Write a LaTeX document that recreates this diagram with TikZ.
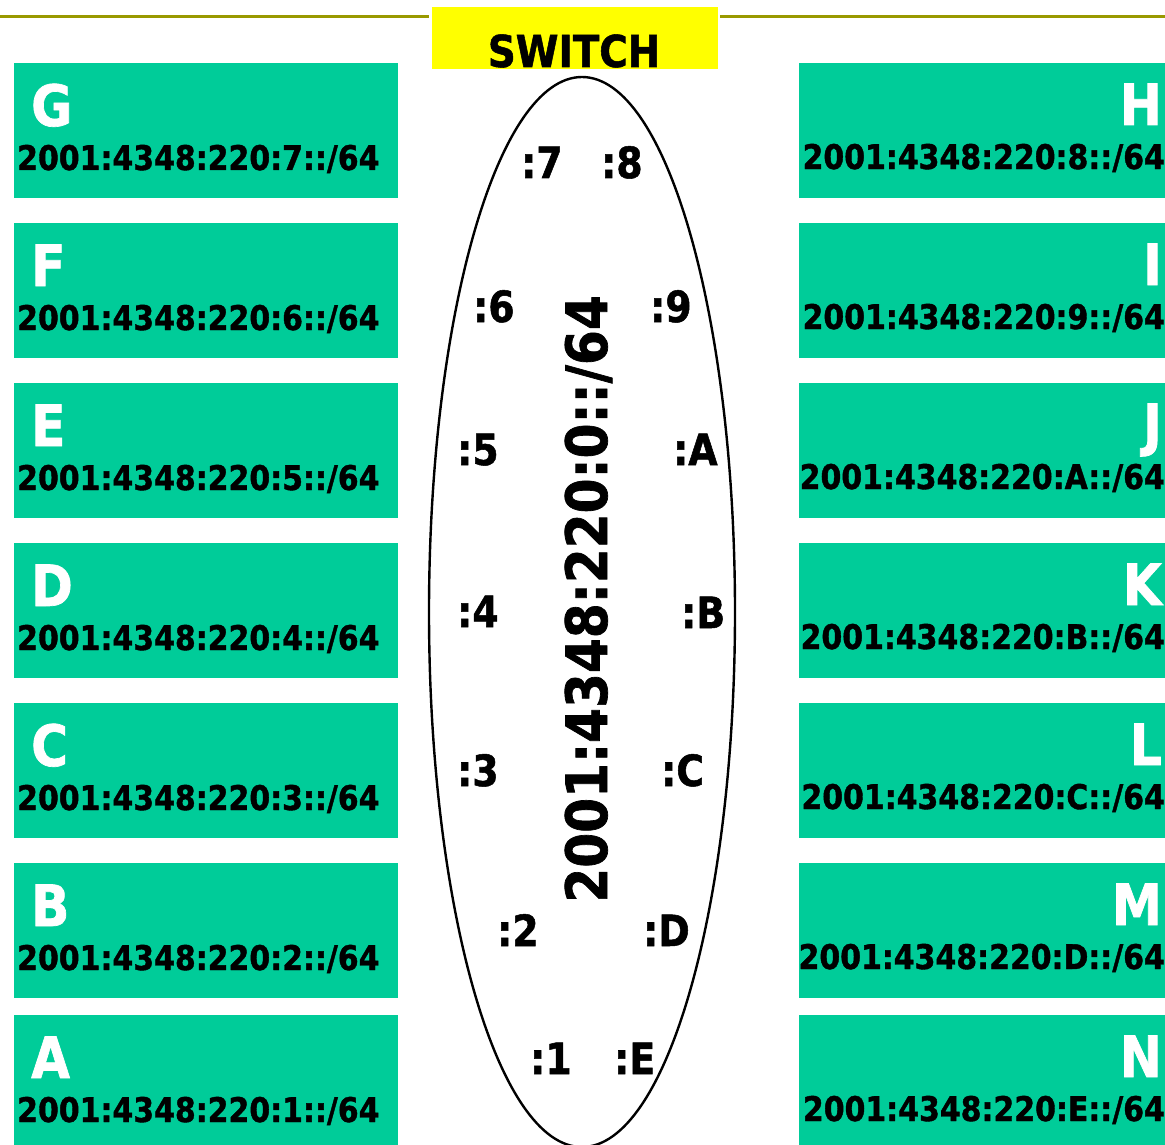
\documentclass[tikz,border=0pt]{standalone}
\usepackage{fontspec}
\newfontfamily\vb{DejaVu Sans}[FakeStretch=0.88, BoldFeatures={FakeBold=1.2}]
\usetikzlibrary{shapes.geometric}
\definecolor{boxgreen}{RGB}{0,204,153}
\definecolor{olivec}{RGB}{153,153,0}
\definecolor{swyellow}{RGB}{255,255,0}
\tikzset{
  netbox/.style={rectangle, fill=boxgreen, draw=none, inner sep=0pt, anchor=north west, minimum height=135pt},
  lbox/.style={netbox, minimum width=384pt},
  rbox/.style={netbox, minimum width=368pt},
  lettext/.style={inner sep=0pt, text=white, font=\vb\bfseries\fontsize{57}{57}\selectfont},
  pfxtext/.style={inner sep=0pt, text=black, font=\vb\bfseries\fontsize{34}{34}\selectfont},
  porttext/.style={inner sep=0pt, anchor=base west, text=black, font=\vb\bfseries\fontsize{43}{43}\selectfont},
}
\begin{document}
\begin{tikzpicture}[x=1pt,y=-1pt]
\useasboundingbox (0,0) rectangle (1165,1145);
% top olive rule
\coordinate (l0) at (0,16.5);
\coordinate (l1) at (429,16.5);
\coordinate (r0) at (720,16.5);
\coordinate (r1) at (1165,16.5);
\draw[olivec, line width=3.4pt] (l0) -- (l1);
\draw[olivec, line width=3.4pt] (r0) -- (r1);
% switch header
\node[rectangle, fill=swyellow, inner sep=0pt, anchor=north west, minimum width=286pt, minimum height=62pt] (hdr) at (432,7) {};
\node[inner sep=0pt, anchor=base, font=\vb\bfseries\fontsize{44}{44}\selectfont] (hdrtxt) at (574,67) {SWITCH};
% left boxes
\foreach \n/\t/\h in {G/63/7, F/223/6, E/383/5, D/543/4, C/703/3, B/863/2, A/1015/1}{
  \node[lbox] (box\n) at (14,\t) {};
  \node[lettext, anchor=base west] (let\n) at (31,\t+63) {\n};
  \node[pfxtext, anchor=base west] (pre\n) at (17,\t+107) {2001:4348:220:\h::/64};
}
% right boxes
\foreach \n/\t/\h in {H/63/8, I/223/9, J/383/A, K/543/B, L/703/C, M/863/D, N/1015/E}{
  \node[rbox] (box\n) at (799,\t) {};
  \node[lettext, anchor=base east] (let\n) at (1162,\t+62) {\n};
  \node[pfxtext, anchor=base east] (pre\n) at (1165,\t+106) {2001:4348:220:\h::/64};
}
% switch ellipse
\node[ellipse, draw=black, line width=2.4pt, minimum width=306pt, minimum height=1070pt, inner sep=0pt] (sw) at (582,612) {};
\node[inner sep=0pt, anchor=base, rotate=90, font=\vb\bfseries\fontsize{57}{57}\selectfont] (swnet) at (607,599) {2001:4348:220:0::/64};
% port labels
\node[porttext] (p7) at (521,178) {:7};
\node[porttext] (p8) at (601,178) {:8};
\node[porttext] (p6) at (473,322) {:6};
\node[porttext] (p9) at (650,322) {:9};
\node[porttext] (p5) at (457,465) {:5};
\node[porttext] (pA) at (673,465) {:A};
\node[porttext] (p4) at (457,627) {:4};
\node[porttext] (pB) at (681,628) {:B};
\node[porttext] (p3) at (457,786) {:3};
\node[porttext] (pC) at (661,786) {:C};
\node[porttext] (p2) at (497,946) {:2};
\node[porttext] (pD) at (643,946) {:D};
\node[porttext] (p1) at (530,1074) {:1};
\node[porttext] (pE) at (614,1074) {:E};
\end{tikzpicture}
\end{document}
